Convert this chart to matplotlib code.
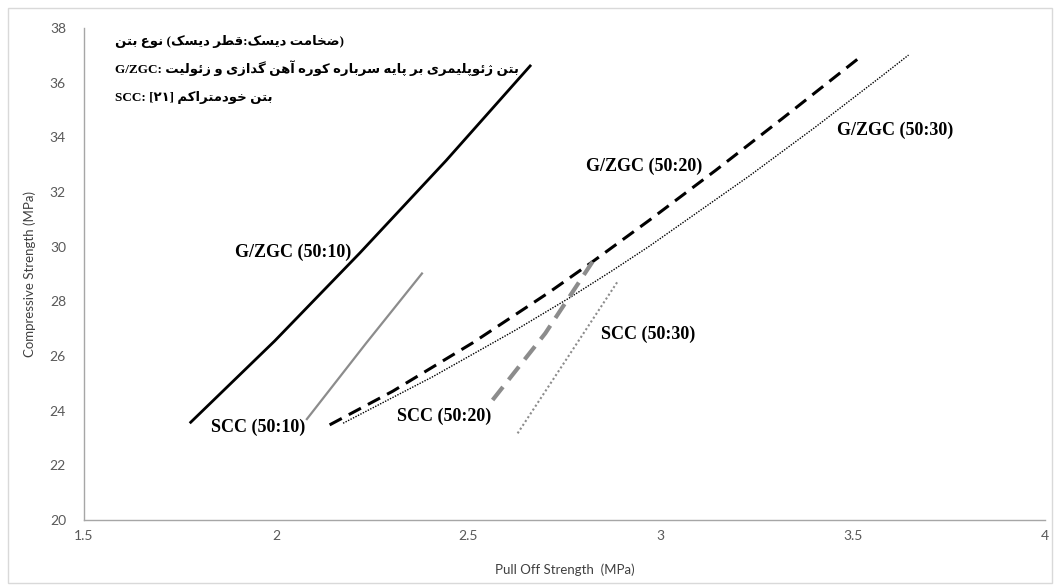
import matplotlib
matplotlib.use("Agg")
import matplotlib.pyplot as plt
from matplotlib.patches import Rectangle

# ---------------- data ----------------
g10_x = [1.775, 1.996, 2.217, 2.442, 2.663]
g10_y = [23.54, 26.55, 29.76, 33.15, 36.65]

s10_x = [2.078, 2.234, 2.381]
s10_y = [23.66, 26.47, 29.05]

g20_x = [2.139, 2.303, 2.511, 2.710, 2.823, 2.970, 3.143, 3.316, 3.524]
g20_y = [23.48, 24.71, 26.48, 28.33, 29.45, 30.96, 32.79, 34.68, 36.99]

g30_x = [2.174, 2.407, 2.623, 2.762, 2.875, 2.970, 3.230, 3.403, 3.576, 3.645]
g30_y = [23.54, 25.24, 26.95, 28.12, 29.13, 30.01, 32.58, 34.38, 36.25, 37.01]

s20_x = [2.563, 2.700, 2.823]
s20_y = [24.39, 26.83, 29.45]

s30_x = [2.628, 2.888]
s30_y = [23.17, 28.72]

x_ticks = [1.5, 2, 2.5, 3, 3.5, 4]
x_tick_labels = ["1.5", "2", "2.5", "3", "3.5", "4"]
y_ticks = [20, 22, 24, 26, 28, 30, 32, 34, 36, 38]

series_labels = ["G/ZGC (50:10)", "SCC (50:10)", "G/ZGC (50:20)",
                 "G/ZGC (50:30)", "SCC (50:20)", "SCC (50:30)"]

note_title = "(ضخامت دیسک:قطر دیسک) نوع بتن"
note_gzgc_key = "G/ZGC: "
note_gzgc = "بتن ژئوپلیمری بر پایه سرباره کوره آهن گدازی و زئولیت"
note_scc_key = "SCC: [۲۱] "
note_scc = "بتن خودمتراکم"

x_label = "Pull Off Strength  (MPa)"
y_label = "Compressive Strength (MPa)"

# ------------- simple Persian shaping (matplotlib has no bidi/shaping) -------------
FORMS = {  # isolated, final, initial, medial
    'ا': (0xFE8D, 0xFE8E, None, None), 'آ': (0xFE81, 0xFE82, None, None),
    'ب': (0xFE8F, 0xFE90, 0xFE91, 0xFE92), 'پ': (0xFB56, 0xFB57, 0xFB58, 0xFB59),
    'ت': (0xFE95, 0xFE96, 0xFE97, 0xFE98), 'ث': (0xFE99, 0xFE9A, 0xFE9B, 0xFE9C),
    'ج': (0xFE9D, 0xFE9E, 0xFE9F, 0xFEA0), 'چ': (0xFB7A, 0xFB7B, 0xFB7C, 0xFB7D),
    'ح': (0xFEA1, 0xFEA2, 0xFEA3, 0xFEA4), 'خ': (0xFEA5, 0xFEA6, 0xFEA7, 0xFEA8),
    'د': (0xFEA9, 0xFEAA, None, None), 'ذ': (0xFEAB, 0xFEAC, None, None),
    'ر': (0xFEAD, 0xFEAE, None, None), 'ز': (0xFEAF, 0xFEB0, None, None),
    'ژ': (0xFB8A, 0xFB8B, None, None),
    'س': (0xFEB1, 0xFEB2, 0xFEB3, 0xFEB4), 'ش': (0xFEB5, 0xFEB6, 0xFEB7, 0xFEB8),
    'ص': (0xFEB9, 0xFEBA, 0xFEBB, 0xFEBC), 'ض': (0xFEBD, 0xFEBE, 0xFEBF, 0xFEC0),
    'ط': (0xFEC1, 0xFEC2, 0xFEC3, 0xFEC4), 'ظ': (0xFEC5, 0xFEC6, 0xFEC7, 0xFEC8),
    'ع': (0xFEC9, 0xFECA, 0xFECB, 0xFECC), 'غ': (0xFECD, 0xFECE, 0xFECF, 0xFED0),
    'ف': (0xFED1, 0xFED2, 0xFED3, 0xFED4), 'ق': (0xFED5, 0xFED6, 0xFED7, 0xFED8),
    'ک': (0xFB8E, 0xFB8F, 0xFB90, 0xFB91), 'گ': (0xFB92, 0xFB93, 0xFB94, 0xFB95),
    'ل': (0xFEDD, 0xFEDE, 0xFEDF, 0xFEE0), 'م': (0xFEE1, 0xFEE2, 0xFEE3, 0xFEE4),
    'ن': (0xFEE5, 0xFEE6, 0xFEE7, 0xFEE8), 'و': (0xFEED, 0xFEEE, None, None),
    'ه': (0xFEE9, 0xFEEA, 0xFEEB, 0xFEEC), 'ی': (0xFBFC, 0xFBFD, 0xFBFE, 0xFBFF),
    'ئ': (0xFE89, 0xFE8A, 0xFE8B, 0xFE8C),
}


def _dual(c):
    return c in FORMS and FORMS[c][2] is not None


def shape(s):
    out = []
    for i, c in enumerate(s):
        if c not in FORMS:
            out.append(c)
            continue
        prev = s[i - 1] if i > 0 else ''
        nxt = s[i + 1] if i + 1 < len(s) else ''
        jp = _dual(prev)
        jn = _dual(c) and nxt in FORMS
        iso, fin, ini, med = FORMS[c]
        if jp and jn:
            code = med
        elif jp:
            code = fin
        elif jn:
            code = ini
        else:
            code = iso
        out.append(chr(code))
    return ''.join(out)


MIRROR = {'(': ')', ')': '(', '[': ']', ']': '['}


def rtl(s):
    return ''.join(MIRROR.get(c, c) for c in reversed(shape(s)))


# ---------------- figure ----------------
W, H = 1054, 585
fig = plt.figure(figsize=(W / 100, H / 100), dpi=100)
ax = fig.add_axes([84 / W, 1 - 520 / H, (1045 - 84) / W, (520 - 28) / H])

fig.patches.append(Rectangle((8 / W, 2 / H), (W - 10) / W, (H - 10) / H,
                             transform=fig.transFigure, fill=False,
                             edgecolor='#D9D9D9', lw=1.0))

ax.plot(g10_x, g10_y, color='black', lw=2.0, solid_capstyle='butt',
        solid_joinstyle='round')
ax.plot(s10_x, s10_y, color='#8C8C8C', lw=1.6, solid_capstyle='butt')
ax.plot(g20_x, g20_y, color='black', lw=2.2, dashes=(4.5, 2.6), dash_capstyle='butt',
        dash_joinstyle='round')
ax.plot(g30_x, g30_y, color='black', lw=1.0, dashes=(1, 1))
ax.plot(s20_x, s20_y, color='#8C8C8C', lw=3.0, dashes=(4.0, 2.2), dash_capstyle='butt')
ax.plot(s30_x, s30_y, color='#8C8C8C', lw=1.5, dashes=(1, 1.2))

ax.set_xlim(1.5, 4)
ax.set_ylim(20, 38)
ax.set_xticks(x_ticks)
ax.set_xticklabels(x_tick_labels)
ax.set_yticks(y_ticks)
ax.tick_params(length=0, labelsize=10, colors='#595959', labelcolor='#595959')
ax.tick_params(axis='y', pad=13)
ax.tick_params(axis='x', pad=7)
for lab in ax.get_xticklabels() + ax.get_yticklabels():
    lab.set_family('Lato')
for sp in ['top', 'right']:
    ax.spines[sp].set_visible(False)
for sp in ['left', 'bottom']:
    ax.spines[sp].set_color('#A6A6A6')
    ax.spines[sp].set_linewidth(1.0)

ax.set_xlabel(x_label, family='Lato', fontsize=9.5, color='#404040')
ax.set_ylabel(y_label, family='Lato', fontsize=9.5, color='#404040')
ax.xaxis.set_label_coords(0.5, -0.088)
ax.yaxis.set_label_coords(-0.050, 0.5)

lab_kw = dict(family='Liberation Serif', fontweight='bold', fontsize=13,
              ha='center', va='center', color='black')
label_pos = [(2.043, 29.81), (1.952, 23.40), (2.957, 32.93),
             (3.611, 34.27), (2.438, 23.78), (2.967, 26.78)]
for txt, (lx, ly) in zip(series_labels, label_pos):
    ax.text(lx, ly, txt, **lab_kw)

note_kw = dict(family=['Liberation Serif', 'DejaVu Sans'], fontweight='bold',
               fontsize=9.5, ha='left', va='center', color='black',
               transform=fig.transFigure)
fig.text(115 / W, 1 - 41 / H, rtl(note_title), **note_kw)
fig.text(115 / W, 1 - 68 / H, note_gzgc_key + rtl(note_gzgc), **note_kw)
fig.text(115 / W, 1 - 97 / H, note_scc_key + rtl(note_scc), **note_kw)

fig.savefig('out.png', dpi=100)
